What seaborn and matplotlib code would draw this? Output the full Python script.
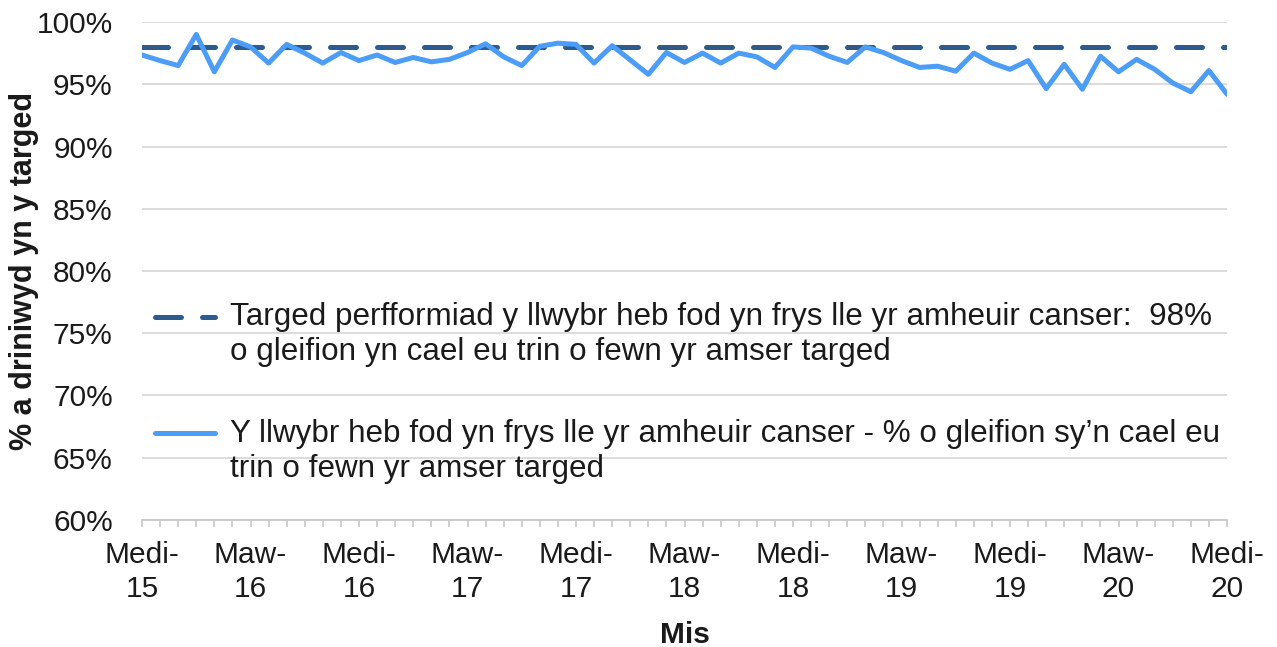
import numpy as np
import pandas as pd
import matplotlib
matplotlib.use("Agg")
import matplotlib.pyplot as plt
import seaborn as sns
from matplotlib.legend_handler import HandlerLine2D

# monthly values, Medi-15 (Sep 2015) .. Medi-20 (Sep 2020)
performance = [97.35, 96.9, 96.5, 99.0, 96.0, 98.55, 98.0, 96.7, 98.2, 97.5,
               96.7, 97.55, 96.9, 97.35, 96.75, 97.15, 96.8, 97.0, 97.55, 98.25,
               97.2, 96.5, 98.05, 98.3, 98.2, 96.7, 98.1, 96.95, 95.8, 97.55,
               96.75, 97.5, 96.7, 97.5, 97.2, 96.35, 98.0, 97.9, 97.25, 96.75,
               98.0, 97.55, 96.9, 96.35, 96.45, 96.05, 97.5, 96.7, 96.2, 96.9,
               94.65, 96.6, 94.6, 97.25, 96.0, 97.0, 96.2, 95.1, 94.4, 96.1,
               94.2]
target = [98.0] * len(performance)
tick_labels = ["Medi-\n15", "Maw-\n16", "Medi-\n16", "Maw-\n17", "Medi-\n17",
               "Maw-\n18", "Medi-\n18", "Maw-\n19", "Medi-\n19", "Maw-\n20",
               "Medi-\n20"]
y_ticks = [60, 65, 70, 75, 80, 85, 90, 95, 100]

target_label = ("Targed perfformiad y llwybr heb fod yn frys lle yr amheuir canser:  98%\n"
                "o gleifion yn cael eu trin o fewn yr amser targed")
perf_label = ("Y llwybr heb fod yn frys lle yr amheuir canser - % o gleifion sy\u2019n cael eu\n"
              "trin o fewn yr amser targed")

df = pd.DataFrame({"month": np.arange(len(performance)),
                   "performance": performance,
                   "target": target})

sns.set_theme(style="white")
plt.rcParams["font.family"] = ["Liberation Sans", "DejaVu Sans"]
txt = "#1a1a1a"

fig = plt.figure(figsize=(12.77, 6.47), dpi=100)
ax = fig.add_axes([142 / 1277, 1 - 520 / 647, 1085 / 1277, 498 / 647])

sns.lineplot(data=df, x="month", y="target", ax=ax, color="#2F5A8E", lw=3.6,
             label=target_label)
ax.lines[-1].set_dashes([5.2, 4.2])
ax.lines[-1].set_dash_capstyle("round")
sns.lineplot(data=df, x="month", y="performance", ax=ax, color="#4C9DF8", lw=3.6,
             label=perf_label)

ax.set_xlim(0, len(performance) - 1)
ax.set_ylim(60, 100)
ax.set_yticks(y_ticks)
ax.set_yticklabels([f"{v}%" for v in y_ticks])
ax.set_xticks(np.arange(0, len(performance), 6))
ax.set_xticklabels(tick_labels)
ax.set_xticks(np.arange(len(performance)), minor=True)
ax.tick_params(axis="x", which="both", length=5, width=1.2, color="#c8c8c8",
               direction="out", bottom=True, pad=10)
ax.tick_params(axis="x", labelsize=21.5, labelcolor=txt)
ax.tick_params(axis="y", length=0, pad=21, labelsize=21.5, labelcolor=txt)
for lab in ax.get_xticklabels():
    lab.set_linespacing(1.3)

ax.grid(axis="y", color="#d9d9d9", lw=1.3)
ax.set_axisbelow(True)
for side in ["left", "right", "top"]:
    ax.spines[side].set_visible(False)
ax.spines["bottom"].set_color("#c8c8c8")
ax.spines["bottom"].set_linewidth(1.3)

ax.set_xlabel("Mis", fontsize=21.5, fontweight="bold", color=txt, labelpad=13)
ax.set_ylabel("% a driniwyd yn y targed", fontsize=22, fontweight="bold",
              color=txt, labelpad=-2)


class FirstLineHandler(HandlerLine2D):
    # put the legend line level with the first line of the label
    def create_artists(self, legend, orig_handle, xdescent, ydescent, width,
                       height, fontsize, trans):
        arts = super().create_artists(legend, orig_handle, xdescent, ydescent,
                                      width, height, fontsize, trans)
        for a in arts:
            a.set_ydata(np.asarray(a.get_ydata()) + 0.6 * fontsize)
        return arts


handles, labels = ax.get_legend_handles_labels()
leg = ax.legend(handles, labels, loc="upper left", bbox_to_anchor=(0.012, 0.437),
                frameon=False, fontsize=22.6, borderpad=0, borderaxespad=0,
                handlelength=1.9, handletextpad=0.5, labelspacing=1.65,
                labelcolor=txt,
                handler_map={h: FirstLineHandler() for h in handles})
for t in leg.get_texts():
    t.set_linespacing(1.22)

fig.savefig("out.png", dpi=100)
